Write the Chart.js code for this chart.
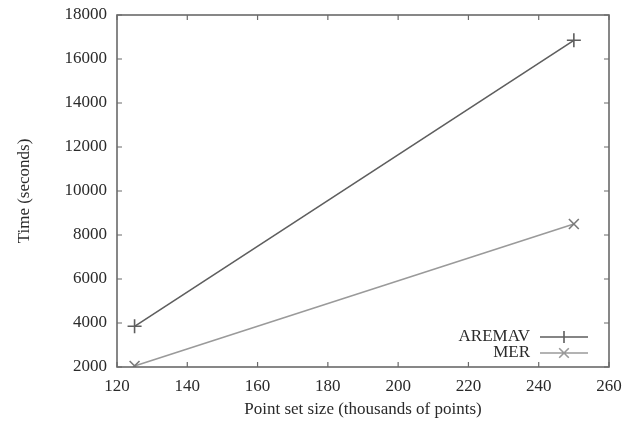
<!DOCTYPE html>
<html>
<head>
<meta charset="utf-8">
<script src="https://cdn.jsdelivr.net/npm/chart.js@4"></script>
<style>
  html, body { margin: 0; padding: 0; background: #fff; }
  #wrap { width: 634px; height: 421px; }
</style>
</head>
<body>
<div id="wrap"><canvas id="chart" width="634" height="421"></canvas></div>
<script>
// values
const sizes = [125, 250];
const aremavTimes = [3850, 16850];
const merTimes = [2050, 8500];
const seriesNames = ['AREMAV', 'MER'];

const FONT = '"Liberation Serif", "DejaVu Serif", serif';
const AXIS = '#6a6a6a';
const TXT = '#2a2a2a';

// gnuplot-like frame: border box, inward ticks on all four sides, legend bottom-right
const framePlugin = {
  id: 'frame',
  afterDatasetsDraw(chart) {
    const { ctx, chartArea: a, scales } = chart;
    const tl = 5;
    ctx.save();
    ctx.strokeStyle = AXIS;
    ctx.lineWidth = 1.6;
    ctx.strokeRect(a.left, a.top, a.right - a.left, a.bottom - a.top);
    ctx.lineWidth = 1.2;
    ctx.beginPath();
    scales.x.ticks.forEach((t, i) => {
      const px = scales.x.getPixelForTick(i);
      ctx.moveTo(px, a.bottom); ctx.lineTo(px, a.bottom - tl);
      ctx.moveTo(px, a.top); ctx.lineTo(px, a.top + tl);
    });
    scales.y.ticks.forEach((t, i) => {
      const py = scales.y.getPixelForTick(i);
      ctx.moveTo(a.left, py); ctx.lineTo(a.left + tl, py);
      ctx.moveTo(a.right, py); ctx.lineTo(a.right - tl, py);
    });
    ctx.stroke();

    // legend
    ctx.font = '17px ' + FONT;
    ctx.textAlign = 'right';
    ctx.textBaseline = 'middle';
    chart.data.datasets.forEach((ds, i) => {
      const y = a.bottom - 30 + i * 16;
      const x1 = a.right - 69, x2 = a.right - 21;
      ctx.fillStyle = TXT;
      ctx.fillText(ds.label, x1 - 10, y);
      ctx.strokeStyle = ds.borderColor;
      ctx.lineWidth = 1.6;
      ctx.beginPath();
      ctx.moveTo(x1, y); ctx.lineTo(x2, y);
      const cx = (x1 + x2) / 2, r = 6;
      if (ds.pointStyle === 'cross') {
        ctx.moveTo(cx - r, y); ctx.lineTo(cx + r, y);
        ctx.moveTo(cx, y - r); ctx.lineTo(cx, y + r);
      } else {
        const d = r * 0.8;
        ctx.moveTo(cx - d, y - d); ctx.lineTo(cx + d, y + d);
        ctx.moveTo(cx - d, y + d); ctx.lineTo(cx + d, y - d);
      }
      ctx.stroke();
    });
    ctx.restore();
  }
};

new Chart(document.getElementById('chart'), {
  type: 'line',
  data: {
    datasets: [
      {
        label: seriesNames[0],
        data: sizes.map((x, i) => ({ x, y: aremavTimes[i] })),
        borderColor: '#5e5e5e',
        borderWidth: 1.6,
        pointStyle: 'cross',
        pointRadius: 7,
        pointBorderColor: '#5e5e5e',
        pointBorderWidth: 1.6,
        tension: 0
      },
      {
        label: seriesNames[1],
        data: sizes.map((x, i) => ({ x, y: merTimes[i] })),
        borderColor: '#9a9a9a',
        borderWidth: 1.6,
        pointStyle: 'crossRot',
        pointRadius: 7,
        pointBorderColor: '#7a7a7a',
        pointBorderWidth: 1.6,
        tension: 0
      }
    ]
  },
  options: {
    responsive: false,
    animation: false,
    layout: { padding: { top: 15, right: 25, left: 0, bottom: 0 } },
    plugins: { legend: { display: false }, tooltip: { enabled: false } },
    scales: {
      x: {
        type: 'linear',
        min: 120, max: 260,
        border: { display: false },
        grid: { display: false, drawTicks: false },
        ticks: { stepSize: 20, padding: 9, color: TXT, font: { family: FONT, size: 17 }, maxRotation: 0, callback: v => String(v) },
        title: { display: true, text: 'Point set size (thousands of points)', color: TXT, font: { family: FONT, size: 17 }, padding: { top: 0, bottom: 1 } },
        afterFit(s) { s.height = 54; s.paddingLeft = 0; s.paddingRight = 0; }
      },
      y: {
        min: 2000, max: 18000,
        border: { display: false },
        grid: { display: false, drawTicks: false },
        ticks: { stepSize: 2000, padding: 10, color: TXT, font: { family: FONT, size: 17 }, callback: v => String(v) },
        title: { display: true, text: 'Time (seconds)', color: TXT, font: { family: FONT, size: 17 }, padding: { top: 14, bottom: 0 } },
        afterFit(s) { s.width = 117; s.paddingTop = 0; s.paddingBottom = 0; }
      }
    }
  },
  plugins: [framePlugin]
});
</script>
</body>
</html>
